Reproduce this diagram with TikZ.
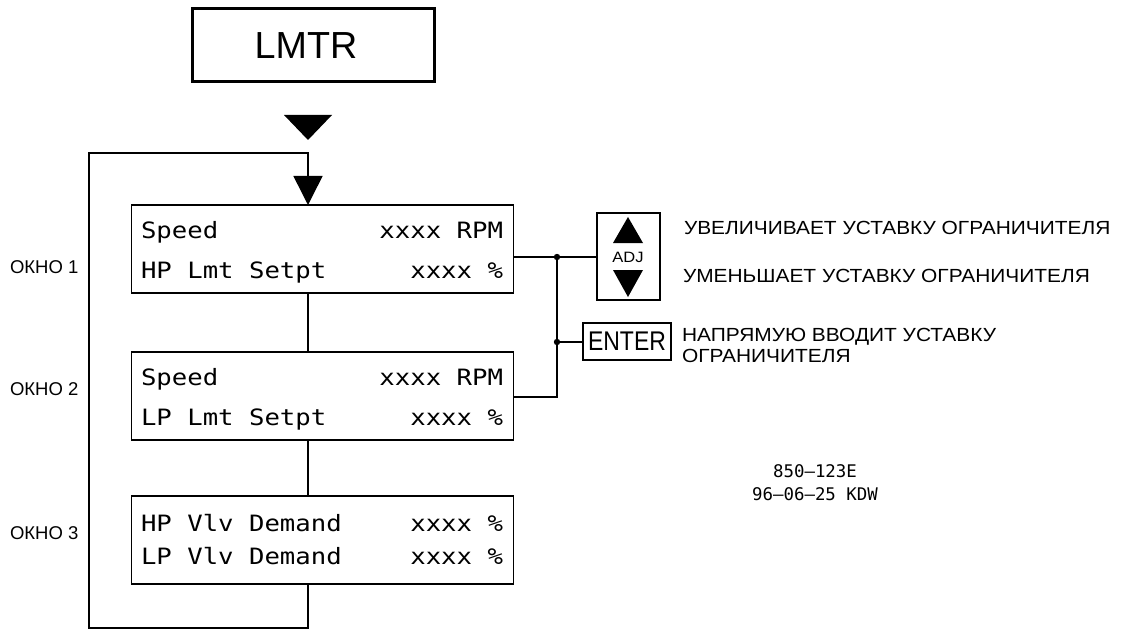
\documentclass[tikz,border=0pt]{standalone}
\usepackage{fontspec}
\setmainfont{Liberation Sans}
\newfontfamily\cad[FakeStretch=1.14]{DejaVu Sans Mono}
\newfontfamily\cadn{DejaVu Sans Mono}
\newfontfamily\rus[FakeStretch=1.1]{Liberation Sans}
\newfontfamily\entf[FakeStretch=0.85]{Liberation Sans}
\usetikzlibrary{arrows.meta}
\begin{document}
\begin{tikzpicture}[x=1pt,y=-1pt,line width=1.5pt,
  win/.style={draw,minimum width=382pt,minimum height=88pt,inner sep=0pt,outer sep=0pt},
  txt/.style={inner sep=0pt,outer sep=0pt},
  boxtxt/.style={txt,font=\cad\fontsize{22.5pt}{27pt}\selectfont},
  rtxt/.style={txt,anchor=base west,font=\rus\fontsize{19pt}{20pt}\selectfont},
  oktxt/.style={txt,anchor=base west,font=\fontsize{18.5pt}{20pt}\selectfont},
  numtxt/.style={txt,anchor=base,font=\cadn\fontsize{17.4pt}{18pt}\selectfont}]
\useasboundingbox (0,0) rectangle (1124,631);
% title
\node[draw,line width=3pt,minimum width=242pt,minimum height=73pt,inner sep=0pt,
      font=\fontsize{37.7pt}{40pt}\selectfont] (lmtr) at (313,45.5) {\hspace*{-14pt}LMTR};
\fill (284,115) -- (332,115) -- (308,140) -- cycle;
% windows
\node[win] (w1) at (322.5,249) {};
\node[win] (w2) at (322.5,396) {};
\node[win] (w3) at (322.5,540) {};
\node[boxtxt,anchor=base west] (w1a) at (141,238) {Speed};
\node[boxtxt,anchor=base east] (w1b) at (503,238) {xxxx RPM};
\node[boxtxt,anchor=base west] (w1c) at (141,278) {HP Lmt Setpt};
\node[boxtxt,anchor=base east] (w1d) at (503,278) {xxxx \%};
\node[boxtxt,anchor=base west] (w2a) at (141,385) {Speed};
\node[boxtxt,anchor=base east] (w2b) at (503,385) {xxxx RPM};
\node[boxtxt,anchor=base west] (w2c) at (141,425) {LP Lmt Setpt};
\node[boxtxt,anchor=base east] (w2d) at (503,425) {xxxx \%};
\node[boxtxt,anchor=base west] (w3a) at (141,531) {HP Vlv Demand};
\node[boxtxt,anchor=base east] (w3b) at (503,531) {xxxx \%};
\node[boxtxt,anchor=base west] (w3c) at (141,564) {LP Vlv Demand};
\node[boxtxt,anchor=base east] (w3d) at (503,564) {xxxx \%};
% window labels
\node[oktxt] (ok1) at (10,273) {ОКНО 1};
\node[oktxt] (ok2) at (10,395) {ОКНО 2};
\node[oktxt] (ok3) at (10,539) {ОКНО 3};
% loop and connectors
\coordinate (cx) at (308,0);
\coordinate (lb) at (89,628);
\coordinate (lt) at (89,153);
\draw (w1.south -| cx) -- (w2.north -| cx);
\draw (w2.south -| cx) -- (w3.north -| cx);
\draw[-{Triangle[length=29pt,width=29pt]}] (w3.south -| cx) -- (cx |- lb) -- (lb) -- (lt) -- (lt -| cx) -- (w1.north -| cx);
% keys
\node[draw,minimum width=63pt,minimum height=87pt,inner sep=0pt] (adj) at (628.5,256.5) {};
\fill (613,243) -- (643,243) -- (628,217) -- cycle;
\node[txt,font=\rus\fontsize{15pt}{15pt}\selectfont] (adjt) at (628,257.5) {ADJ};
\fill (613,270) -- (643,270) -- (628,297) -- cycle;
\node[draw,minimum width=88pt,minimum height=37pt,inner sep=0pt,
      font=\entf\fontsize{27pt}{27pt}\selectfont] (ent) at (627,341.5) {ENTER};
\coordinate (j1) at (557,257);
\coordinate (j2) at (557,342);
\coordinate (j3) at (557,397);
\draw (j1 -| w1.east) -- (j1) -- (j1 -| adj.west);
\draw (j1) -- (j3) -- (j3 -| w2.east);
\draw (j2) -- (j2 -| ent.west);
\fill (j1) circle (3.2);
\fill (j2) circle (3.2);
% descriptions
\node[rtxt] (t1) at (684,234) {УВЕЛИЧИВАЕТ УСТАВКУ ОГРАНИЧИТЕЛЯ};
\node[rtxt] (t2) at (683,282) {УМЕНЬШАЕТ УСТАВКУ ОГРАНИЧИТЕЛЯ};
\node[rtxt] (t3) at (682,341) {НАПРЯМУЮ ВВОДИТ УСТАВКУ};
\node[rtxt] (t4) at (682,362) {ОГРАНИЧИТЕЛЯ};
% drawing number
\node[numtxt] (n1) at (815,477) {850–123E};
\node[numtxt] (n2) at (815,500) {96–06–25 KDW};
\end{tikzpicture}
\end{document}
